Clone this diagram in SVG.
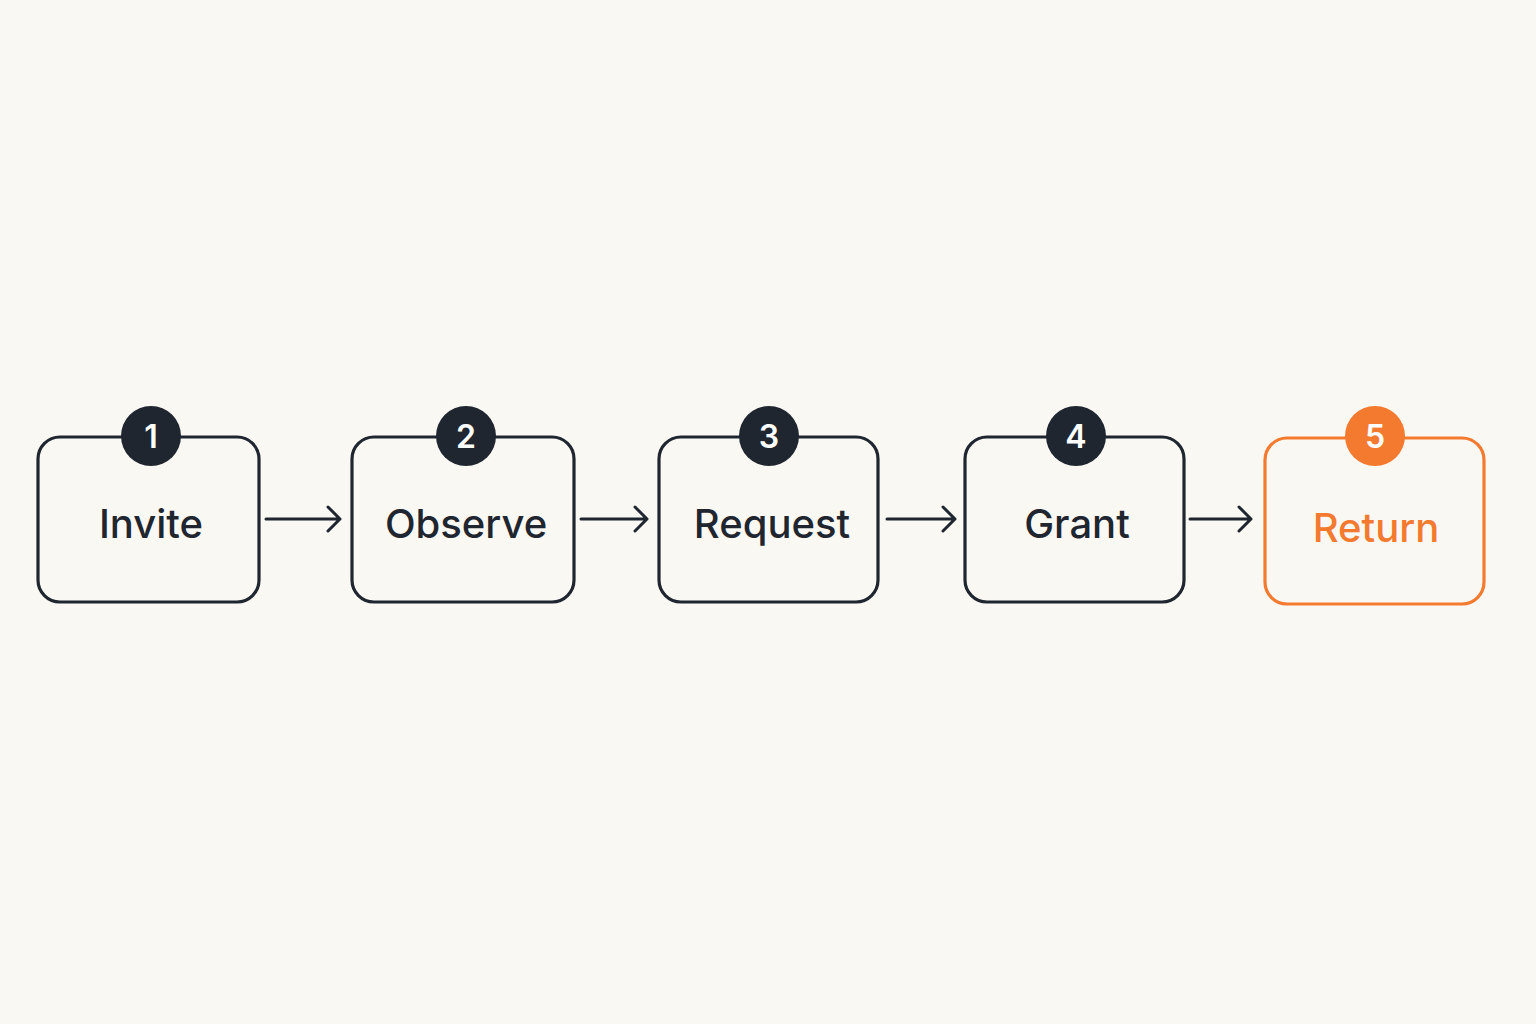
<svg xmlns="http://www.w3.org/2000/svg" width="1536" height="1024" viewBox="0 0 1536 1024">
<defs>
<style>
.box{fill:none;stroke:#1f2630;stroke-width:3.2}
.box.o{stroke:#f37a2e}
.badge{fill:#1f2630}
.badge.o{fill:#f37a2e}
.num{font-family:Inter,"Liberation Sans",sans-serif;font-size:32px;font-weight:600;fill:#ffffff;text-anchor:middle}
.lbl{font-family:Inter,"Liberation Sans",sans-serif;font-size:40px;font-weight:500;fill:#1f2630;text-anchor:middle}
.lbl.o{fill:#f37a2e}
.arr{fill:none;stroke:#1f2630;stroke-width:3;stroke-linecap:round;stroke-linejoin:round}
</style>
</defs>
<rect width="1536" height="1024" fill="#faf8f3"/>
<g id="connectors">
<path class="arr" d="M266 519H340M328 507L340 519L328 531"/>
<path class="arr" d="M581 519H647M635 507L647 519L635 531"/>
<path class="arr" d="M887 519H955M943 507L955 519L943 531"/>
<path class="arr" d="M1190 519H1251M1239 507L1251 519L1239 531"/>
</g>
<g id="node1">
<rect class="box" x="38" y="437" width="221" height="165" rx="22"/>
<circle class="badge" cx="151" cy="436" r="30"/>
<text class="num" x="151" y="448">1</text>
<text class="lbl" x="151" y="538">Invite</text>
</g>
<g id="node2">
<rect class="box" x="352" y="437" width="222" height="165" rx="22"/>
<circle class="badge" cx="466" cy="436" r="30"/>
<text class="num" x="466" y="448">2</text>
<text class="lbl" x="466" y="538">Observe</text>
</g>
<g id="node3">
<rect class="box" x="659" y="437" width="219" height="165" rx="22"/>
<circle class="badge" cx="769" cy="436" r="30"/>
<text class="num" x="769" y="448">3</text>
<text class="lbl" x="772" y="538">Request</text>
</g>
<g id="node4">
<rect class="box" x="965" y="437" width="219" height="165" rx="22"/>
<circle class="badge" cx="1076" cy="436" r="30"/>
<text class="num" x="1076" y="448">4</text>
<text class="lbl" x="1077" y="538">Grant</text>
</g>
<g id="node5">
<rect class="box o" x="1265" y="438" width="219" height="166" rx="22"/>
<circle class="badge o" cx="1375" cy="436" r="30"/>
<text class="num" x="1375" y="448">5</text>
<text class="lbl o" x="1376" y="542">Return</text>
</g>
</svg>
